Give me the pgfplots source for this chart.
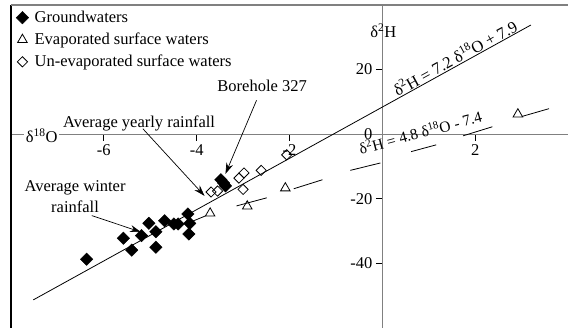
\documentclass[border=0pt]{standalone}
\usepackage{fontspec}
\setmainfont{Liberation Serif}
\usepackage{pgfplots}
\pgfplotsset{compat=1.18}
\usetikzlibrary{arrows.meta}
\begin{document}
\begin{tikzpicture}[font=\fontsize{16.5}{20.5}\selectfont]
\begin{axis}[
  scale only axis, width=557pt, height=323pt,
  xmin=-8, xmax=4, ymin=-60, ymax=40,
  axis x line=middle, axis y line=middle,
  axis line style={-, draw=gray, line width=1.3pt},
  xtick={-6,-4,-2,2}, xticklabels={-6,-4,-2,2},
  ytick={-40,-20,0,20}, yticklabels={-40,-20,0,20},
  hide obscured x ticks=false, hide obscured y ticks=false,
  tick align=outside, major tick length=6.5pt,
  tick style={black, line width=0.9pt},
  ticklabel style={font=\fontsize{16.5}{20}\selectfont},
  clip=false,
  legend style={at={(rel axis cs:0,1)}, anchor=north west, xshift=4pt, yshift=-2pt, draw=none, fill=none,
    font=\fontsize{16.5}{20}\selectfont, row sep=5pt, inner xsep=1pt, inner ysep=2pt},
  legend cell align=left,
  legend image code/.code={\draw[mark repeat=2,mark phase=2,#1] plot coordinates {(0pt,0pt)(6pt,0pt)(12pt,0pt)};},
]
% frame
\draw[black, line width=1.2pt] (rel axis cs:0,0) -- (rel axis cs:0,1);
\draw[gray, line width=1.3pt] (rel axis cs:0,1) -- (rel axis cs:1,1);

% Groundwaters
\addplot[only marks, mark=square*, mark size=4.4pt, mark options={rotate=45, fill=black, draw=black}] coordinates {
(-6.37,-38.7) (-5.58,-32.2) (-5.40,-35.9) (-5.19,-31.4) (-5.03,-27.6)
(-4.88,-30.2) (-4.88,-35.0) (-4.69,-26.8) (-4.49,-27.8) (-4.40,-27.8)
(-4.19,-24.7) (-4.15,-27.6) (-4.17,-30.9) (-3.48,-14.1) (-3.42,-15.1) (-3.38,-16.0)
};
\addlegendentry{\hspace{4pt}Groundwaters}
% Evaporated surface waters
\addplot[only marks, mark=triangle, mark size=5.5pt, mark options={draw=black, fill=white, line width=0.8pt}] coordinates {
(-3.71,-24.5) (-2.91,-22.3) (-2.09,-16.7) (2.92,6.2)
};
\addlegendentry{\hspace{4pt}Evaporated surface waters}
% Un-evaporated surface waters
\addplot[only marks, mark=square, mark size=3.6pt, mark options={rotate=45, draw=black, line width=0.8pt}] coordinates {
(-3.69,-17.9) (-3.55,-17.6) (-3.09,-13.6) (-2.98,-12.0) (-3.00,-17.1) (-2.61,-11.2) (-2.06,-6.4)
};
\addlegendentry{\hspace{4pt}Un-evaporated surface waters}

% GMWL-type line
\addplot[black, line width=0.8pt, forget plot] coordinates {(-7.52,-51.3) (3.2,33.8)};
% evaporation line segments
\addplot[black, line width=0.8pt, forget plot] coordinates {(-4.15,-27.3) (-3.81,-25.3)};
\addplot[black, line width=0.8pt, forget plot] coordinates {(-3.14,-22.2) (-2.49,-19.7)};
\addplot[black, line width=0.8pt, forget plot] coordinates {(-1.91,-16.9) (-1.29,-14.1)};
\addplot[black, line width=0.8pt, forget plot] coordinates {(-0.69,-11.2) (-0.04,-8.9)};
\addplot[black, line width=0.8pt, forget plot] coordinates {(0.62,-5.4) (1.16,-3.3)};
\addplot[black, line width=0.8pt, forget plot] coordinates {(1.74,-0.5) (2.37,2.3)};
\addplot[black, line width=0.8pt, forget plot] coordinates {(3.01,5.5) (3.59,7.9)};

% annotations
\node[fill=white, inner sep=1.5pt] at (axis cs:-7.34,-0.5) {δ\textsuperscript{18}O};
\node at (axis cs:0.02,32.1) {δ\textsuperscript{2}H};
\node at (axis cs:-5.24,3.3) {Average yearly rainfall};
\node at (axis cs:-2.59,15.1) {Borehole 327};
\node[align=center] at (axis cs:-6.62,-19.3) {Average winter\\rainfall};
\node[anchor=south, rotate=28.8, inner sep=1pt] at (axis cs:1.65,21.5) {δ\textsuperscript{2}H = 7.2 δ\textsuperscript{18}O + 7.9};
\node[rotate=15, inner sep=1pt, font=\fontsize{15.5}{18}\selectfont] at (axis cs:0.82,0.6) {δ\textsuperscript{2}H = 4.8 δ\textsuperscript{18}O - 7.4};

\draw[-{Stealth[length=11pt,width=7pt]}, line width=0.7pt] (axis cs:-6.26,-25.2) -- (axis cs:-5.20,-30.3);
\draw[-{Stealth[length=11pt,width=7pt]}, line width=0.7pt] (axis cs:-5.16,1.7) -- (axis cs:-3.83,-19.1);
\draw[-{Stealth[length=11pt,width=7pt]}, line width=0.7pt] (axis cs:-2.71,10.5) -- (axis cs:-3.38,-12.3);
\end{axis}
\pgfresetboundingbox
\path (-11pt,0pt) rectangle (557pt,328pt);
\end{tikzpicture}
\end{document}
